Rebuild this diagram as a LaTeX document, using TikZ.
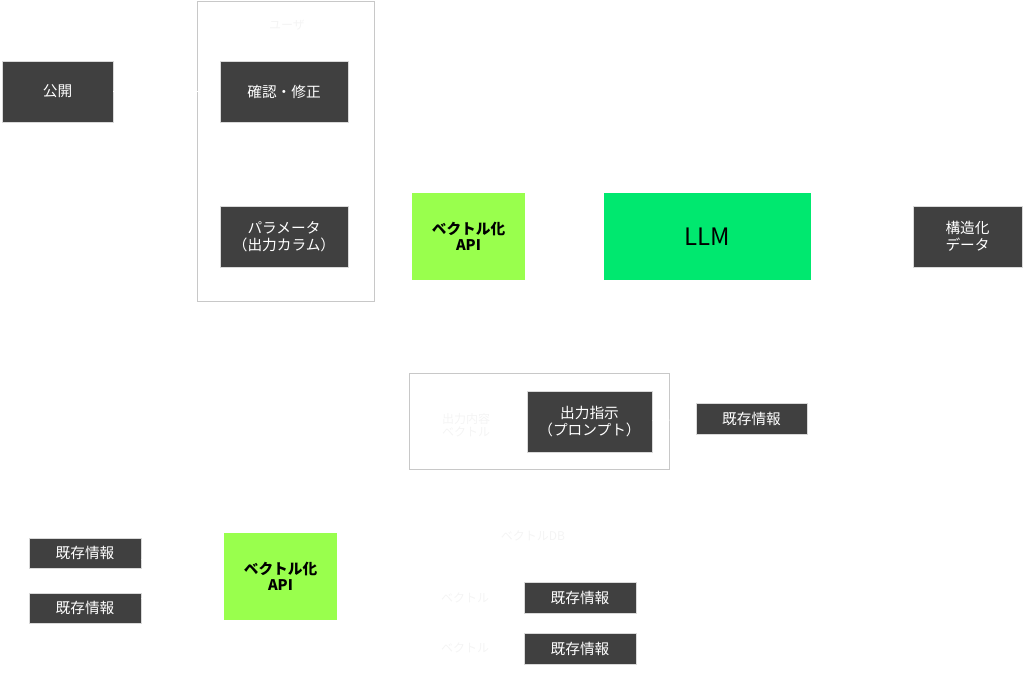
\documentclass[tikz,border=0pt]{standalone}
\usepackage{fontspec}
\setmainfont{Noto Sans CJK JP}
\usetikzlibrary{positioning}
\definecolor{boxgray}{HTML}{404040}
\definecolor{apigreen}{HTML}{99FF4D}
\definecolor{llmgreen}{HTML}{00E86F}
\definecolor{framegray}{HTML}{C8C8C8}
\definecolor{ghost}{HTML}{F4F4F4}
\tikzset{
  dark/.style={draw=white!85!black,fill=boxgray,text=white,align=center,font=\fontsize{11}{13}\selectfont,inner sep=0pt},
  api/.style={fill=apigreen,text=black,align=center,minimum width=113*0.75pt,minimum height=87*0.75pt,font=\fontsize{11}{12}\selectfont\bfseries,inner sep=0pt},
  ghosttext/.style={text=ghost,align=center,font=\fontsize{9}{10}\selectfont},
  wire/.style={draw=white,thin}
}
\begin{document}
\begin{tikzpicture}[x=0.75pt,y=-0.75pt]
\useasboundingbox (0,0) rectangle (1024,692);

% Frames
\draw[framegray] (197,1) rectangle (374,301);
\draw[framegray] (409,373) rectangle (669,469);
\node[ghosttext] (user) at (287,25) {ユーザ};
\node[ghosttext] (outvec) at (466,425) {出力内容\\ベクトル};
\node[ghosttext] (vecdb) at (533,536) {ベクトルDB};
\node[ghosttext] (vec1) at (465,598) {ベクトル};
\node[ghosttext] (vec2) at (465,648) {ベクトル};

% Dark boxes
\node[dark,minimum width=111*0.75pt,minimum height=61*0.75pt] (pub) at (57.5,91.5) {公開};
\node[dark,minimum width=128*0.75pt,minimum height=61*0.75pt] (check) at (284,91.5) {確認・修正};
\node[dark,minimum width=128*0.75pt,minimum height=61*0.75pt] (param) at (284,236.5) {パラメータ\\（出力カラム）};
\node[dark,minimum width=109*0.75pt,minimum height=61*0.75pt] (struct) at (967.5,236.5) {構造化\\データ};
\node[dark,minimum width=125*0.75pt,minimum height=61*0.75pt] (prompt) at (589.5,421.5) {出力指示\\（プロンプト）};
\node[dark,minimum width=111*0.75pt,minimum height=31*0.75pt] (info) at (751.5,418.5) {既存情報};
\node[dark,minimum width=112*0.75pt,minimum height=30*0.75pt] (infoA) at (85,553) {既存情報};
\node[dark,minimum width=112*0.75pt,minimum height=30*0.75pt] (infoB) at (85,608) {既存情報};
\node[dark,minimum width=112*0.75pt,minimum height=31*0.75pt] (infoC) at (580,597.5) {既存情報};
\node[dark,minimum width=112*0.75pt,minimum height=31*0.75pt] (infoD) at (580,648.5) {既存情報};

% Green boxes
\node[api] (apiTop) at (468.5,236.5) {ベクトル化\\API};
\node[api] (apiBot) at (280.5,576) {ベクトル化\\API};
\node[fill=llmgreen,minimum width=207*0.75pt,minimum height=87*0.75pt,font=\fontsize{18}{20}\selectfont,inner sep=0pt] (llm) at (707.5,236.5) {LLM};

% Connectors (white)
\draw[wire] (pub) -- (check);
\draw[wire] (apiTop) -- (llm);
\draw[wire] (llm) -- (struct);
\draw[wire] (infoA) -- (apiBot);
\draw[wire] (infoB) -- (apiBot);
\draw[wire] (info) -- (prompt);
\end{tikzpicture}
\end{document}
